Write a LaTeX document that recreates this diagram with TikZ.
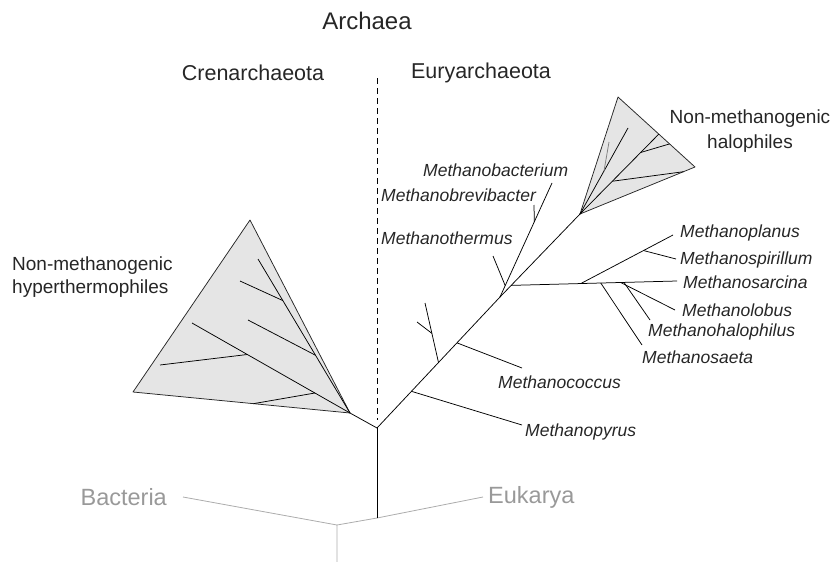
\documentclass[tikz,border=0pt]{standalone}
\usepackage{fontspec}
\setmainfont{Liberation Sans}
\usetikzlibrary{calc,positioning}
\tikzset{%
	branch/.style    = {draw=black, line width=0.75pt},
	outgroup/.style  = {draw=gray!65, line width=0.8pt},
	clade/.style     = {draw=black!85, fill=gray!20, line width=0.75pt, line join=round},
	taxon/.style     = {font=\fontsize{17.5}{20}\selectfont\itshape, text=black!85, inner sep=0pt, anchor=west},
	phylum/.style    = {font=\fontsize{21.5}{25}\selectfont, text=black!85, inner sep=0pt},
	cladelabel/.style= {font=\fontsize{19}{23}\selectfont, text=black!85, inner sep=0pt},
	outlabel/.style  = {font=\fontsize{23.5}{26}\selectfont, text=gray!80, inner sep=0pt},
}
\begin{document}
\begin{tikzpicture}[x=1pt,y=-1pt]
	\useasboundingbox (0,0) rectangle (830,562);
	
	% outgroups
	\coordinate (root) at (337,525);
	\coordinate (rootbase) at (337,562);
	\coordinate (archbase) at (377,518);
	\coordinate (bacttip) at (183,497);
	\coordinate (eukatip) at (483,497);
	\draw[outgroup] (rootbase) -- (root) -- (bacttip);
	\draw[outgroup] (root) -- (archbase) -- (eukatip);
	\node[outlabel, left=16pt of bacttip] (bacteria) {Bacteria};
	\node[outlabel, right=5pt of eukatip] (eukarya) {Eukarya};
	
	% archaeal trunk and divide
	\coordinate (arch) at (377,428);
	\draw[branch] (archbase) -- (arch);
	\coordinate (divtop) at (377,78);
	\coordinate (divbot) at (377,420);
	\draw[line width=0.75pt, dash pattern=on 6pt off 4pt] (divtop) -- (divbot);
	
	\node[phylum, font=\fontsize{24}{28}\selectfont] (archaea) at (367,21) {Archaea};
	\node[phylum] (cren) at (253,73) {Crenarchaeota};
	\node[phylum] (eury) at (481,73) {Euryarchaeota};
	
	% Crenarchaeota
	\coordinate (crenapex) at (350,413);
	\coordinate (crentop) at (250,220);
	\coordinate (crenleft) at (133,392);
	\draw[branch] (arch) -- (crenapex);
	\draw[clade] (crenapex) -- (crentop) -- (crenleft) -- cycle;
	\coordinate (c1) at (258,259);
	\coordinate (c1twig) at (240,281);
	\coordinate (c2twig) at (248,320);
	\coordinate (c3) at (192,323);
	\coordinate (c3twig) at (160,365);
	\coordinate (c4twig) at (315,393);
	\draw[branch] (crenapex) -- (c1);
	\draw[branch] ($(crenapex)!0.73!(c1)$) -- (c1twig);
	\draw[branch] ($(crenapex)!0.375!(c1)$) -- (c2twig);
	\draw[branch] (crenapex) -- (c3);
	\draw[branch] ($(crenapex)!0.65!(c3)$) -- (c3twig);
	\draw[branch] ($(crenleft)!0.555!(crenapex)$) -- (c4twig);
	\node[cladelabel, align=left, anchor=west] (hyper) at (12,277) {Non-methanogenic\\hyperthermophiles};
	
	% Euryarchaeota, lower stem
	\coordinate (eurysplit) at (500,297);
	\draw[branch] (arch) -- (eurysplit);
	\coordinate (pyrustip) at (522,425);
	\draw[branch] ($(arch)!0.28!(eurysplit)$) -- (pyrustip);
	\coordinate (e2) at ($(arch)!0.5!(eurysplit)$);
	\coordinate (e2tip) at (425,303);
	\coordinate (e2twig) at (417,322);
	\draw[branch] (e2) -- (e2tip);
	\draw[branch] ($(e2)!0.49!(e2tip)$) -- (e2twig);
	\coordinate (coccustip) at (522,368);
	\draw[branch] ($(arch)!0.65!(eurysplit)$) -- (coccustip);
	\node[taxon] (pyrus) at (525,432) {Methanopyrus};
	\node[taxon] (coccus) at (498,382) {Methanococcus};
	
	% Methanobacteriales
	\coordinate (bacteriumtip) at (552,183);
	\coordinate (thermustip) at (493,256);
	\coordinate (brevitip) at (534,205);
	\draw[branch] (eurysplit) -- (bacteriumtip);
	\draw[branch] ($(eurysplit)!0.1!(bacteriumtip)$) -- (thermustip);
	\draw[branch] ($(eurysplit)!0.66!(bacteriumtip)$) -- (brevitip);
	\node[taxon] (bacterium) at (423,170) {Methanobacterium};
	\node[taxon] (brevi) at (381,195) {Methanobrevibacter};
	\node[taxon] (thermus) at (381,238) {Methanothermus};
	
	% Methanomicrobiales / Methanosarcinales
	\coordinate (haloapex) at (580,214);
	\draw[branch] (eurysplit) -- (haloapex);
	\coordinate (sarc) at ($(eurysplit)!0.14!(haloapex)$);
	\coordinate (sarcinatip) at (677,281);
	\coordinate (s1) at ($(sarc)!0.42!(sarcinatip)$);
	\coordinate (planustip) at (673,235);
	\coordinate (spirtip) at (676,259);
	\coordinate (saetatip) at (642,345);
	\coordinate (lobustip) at (675,310);
	\coordinate (halophtip) at (650,320);
	\draw[branch] (sarc) -- (sarcinatip);
	\draw[branch] (s1) -- (planustip);
	\draw[branch] ($(s1)!0.68!(planustip)$) -- (spirtip);
	\draw[branch] ($(sarc)!0.54!(sarcinatip)$) -- (saetatip);
	\draw[branch] ($(sarc)!0.66!(sarcinatip)$) -- (lobustip);
	\draw[branch] ($(sarc)!0.68!(sarcinatip)$) -- (halophtip);
	\node[taxon] (planus) at (680,233) {Methanoplanus};
	\node[taxon] (spir) at (680,260) {Methanospirillum};
	\node[taxon] (sarcina) at (683,282) {Methanosarcina};
	\node[taxon] (lobus) at (682,310) {Methanolobus};
	\node[taxon] (halophilus) at (648,332) {Methanohalophilus};
	\node[taxon] (saeta) at (642,357) {Methanosaeta};
	
	% halophiles
	\coordinate (halotop) at (618,97);
	\coordinate (haloright) at (695,167);
	\draw[clade] (haloapex) -- (halotop) -- (haloright) -- cycle;
	\coordinate (h1) at (628,128);
	\coordinate (h1twig) at (609,142);
	\coordinate (h2) at ($(halotop)!0.53!(haloright)$);
	\draw[branch] (haloapex) -- (h1);
	\draw[branch, draw=gray] (h1twig) -- ($(haloapex)!0.5!(h1)$);
	\draw[branch] (haloapex) -- (h2);
	\draw[branch] ($(haloapex)!0.77!(h2)$) -- ($(halotop)!0.67!(haloright)$);
	\draw[branch] ($(haloapex)!0.41!(h2)$) -- ($(haloapex)!0.9!(haloright)$);
	\node[cladelabel, align=center, font=\fontsize{19}{25}\selectfont] (halolabel) at (750,131) {Non-methanogenic\\halophiles};
	
\end{tikzpicture}
\end{document}
